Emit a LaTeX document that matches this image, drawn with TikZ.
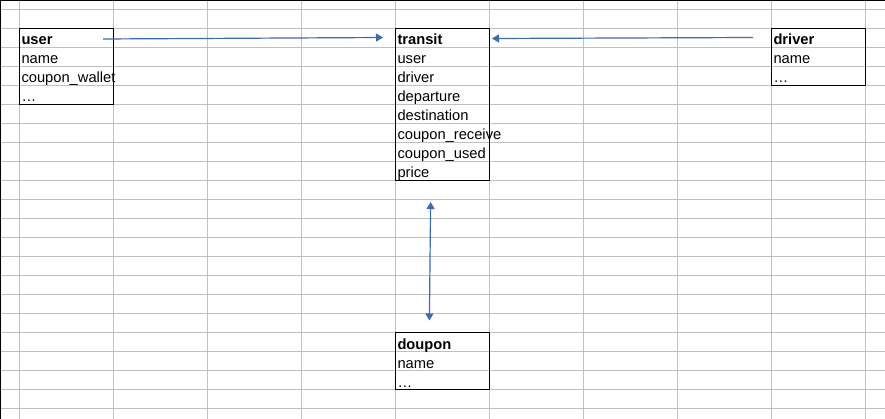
\documentclass[tikz,border=0pt]{standalone}
\usepackage{fontspec}
\setmainfont{Liberation Sans}
\usetikzlibrary{arrows.meta}
\definecolor{gridc}{RGB}{192,192,192}
\definecolor{arrc}{RGB}{62,106,174}
\begin{document}
\begin{tikzpicture}[x=1pt,y=-1pt,
  gridline/.style={draw=gridc,line width=1pt},
  edgeline/.style={draw=black,line width=1.3pt},
  tablebox/.style={draw=black,line width=1.3pt,inner sep=0pt,outer sep=0pt,anchor=north west,minimum width=94pt},
  rowtext/.style={anchor=base west,inner sep=0pt,outer sep=0pt,font=\fontsize{14.7}{17}\selectfont},
  headtext/.style={rowtext,font=\fontsize{14.7}{17}\selectfont\bfseries},
  link/.style={draw=arrc,line width=1.2pt,-{Triangle[length=7pt,width=8pt]}},
  dlink/.style={draw=arrc,line width=1.2pt,{Triangle[length=7pt,width=8pt]}-{Triangle[length=7pt,width=8pt]}}
  ]
\useasboundingbox (0,0) rectangle (885,419);
% spreadsheet grid
\foreach \k in {0,...,9} \draw[gridline] (19.7+94*\k,0) -- (19.7+94*\k,419);
\foreach \k in {0,...,21} \draw[gridline] (0,9.3+19*\k) -- (885,9.3+19*\k);
\draw[edgeline] (0,0.6) -- (885,0.6);
\draw[edgeline] (0.6,0) -- (0.6,419);
% boxes
\node[tablebox,minimum height=76pt] (user) at (19.7,28.3) {};
\node[tablebox,minimum height=152pt] (transit) at (395.7,28.3) {};
\node[tablebox,minimum height=57pt] (driver) at (771.7,28.3) {};
\node[tablebox,minimum height=57pt] (doupon) at (395.7,332.3) {};
% user texts
\node[headtext] (u0) at (21.5,45) {user};
\node[rowtext] (u1) at (21.5,64) {name};
\node[rowtext] (u2) at (21.5,83) {coupon\_wallet};
\node[rowtext] (u3) at (21.5,102) {…};
% transit texts
\node[headtext] (t0) at (397.5,45) {transit};
\node[rowtext] (t1) at (397.5,64) {user};
\node[rowtext] (t2) at (397.5,83) {driver};
\node[rowtext] (t3) at (397.5,102) {departure};
\node[rowtext] (t4) at (397.5,121) {destination};
\node[rowtext] (t5) at (397.5,140) {coupon\_receive};
\node[rowtext] (t6) at (397.5,159) {coupon\_used};
\node[rowtext] (t7) at (397.5,178) {price};
% driver texts
\node[headtext] (d0) at (773.5,45) {driver};
\node[rowtext] (d1) at (773.5,64) {name};
\node[rowtext] (d2) at (773.5,83) {…};
% doupon texts
\node[headtext] (c0) at (397.5,349) {doupon};
\node[rowtext] (c1) at (397.5,368) {name};
\node[rowtext] (c2) at (397.5,387) {…};
% connector ends
\coordinate (uOut) at (103,39);
\coordinate (tInL) at (383,37.5);
\coordinate (dOut) at (753,37.5);
\coordinate (tInR) at (492,38.5);
\coordinate (tBot) at (430.6,202);
\coordinate (cTop) at (429.4,320.5);
% connectors
\draw[link] (uOut) -- (tInL);
\draw[link] (dOut) -- (tInR);
\draw[dlink] (tBot) -- (cTop);
\end{tikzpicture}
\end{document}
